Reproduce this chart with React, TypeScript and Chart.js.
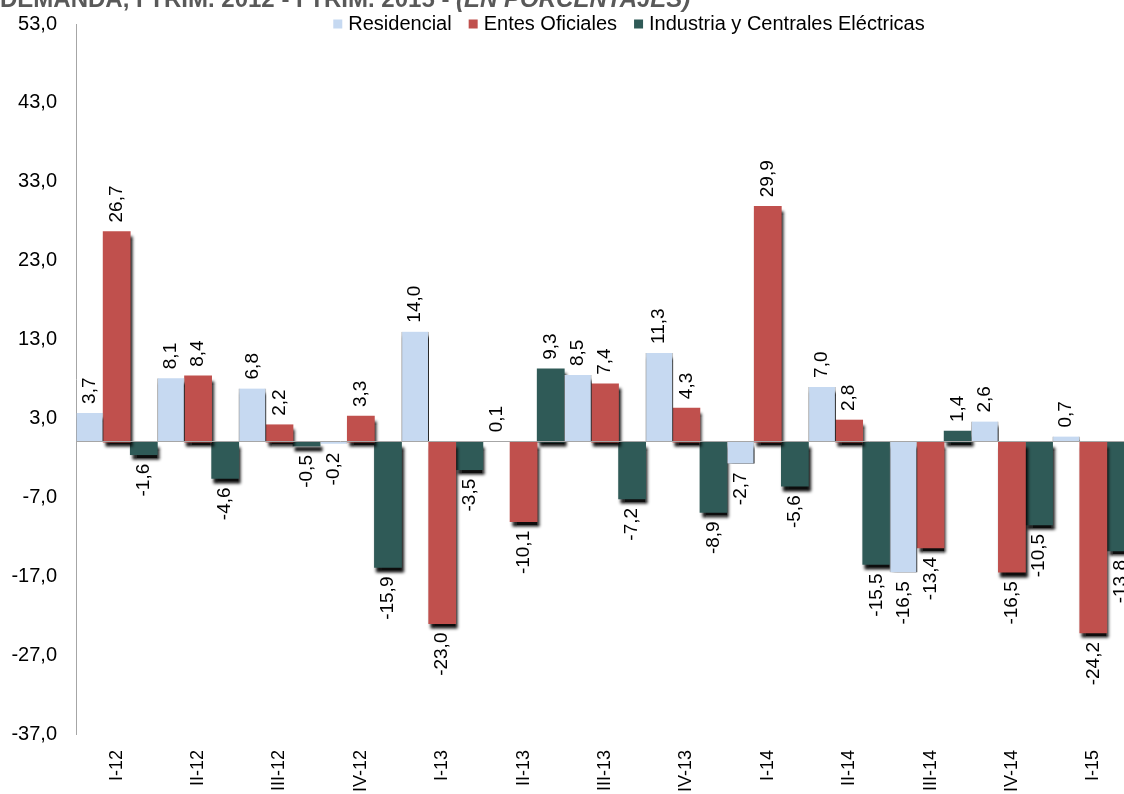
import React, { useEffect, useRef } from 'react';
import { Chart, registerables } from 'chart.js';

Chart.register(...registerables);

const categories = ['I-12', 'II-12', 'III-12', 'IV-12', 'I-13', 'II-13', 'III-13', 'IV-13', 'I-14', 'II-14', 'III-14', 'IV-14', 'I-15'];
const residencial = [3.7, 8.1, 6.8, -0.2, 14.0, 0.1, 8.5, 11.3, -2.7, 7.0, -16.5, 2.6, 0.7];
const entesOficiales = [26.7, 8.4, 2.2, 3.3, -23.0, -10.1, 7.4, 4.3, 29.9, 2.8, -13.4, -16.5, -24.2];
const industria = [-1.6, -4.6, -0.5, -15.9, -3.5, 9.3, -7.2, -8.9, -5.6, -15.5, 1.4, -10.5, -13.8];
const yTicks = [53, 43, 33, 23, 13, 3, -7, -17, -27, -37];
const seriesNames = ['Residencial', 'Entes Oficiales', 'Industria y Centrales Eléctricas'];
const seriesColors = ['#C6D9F1', '#C0504D', '#2F5A57'];

const FONT = '"Liberation Sans", Arial, sans-serif';
const fmt = (v: number) => v.toFixed(1).replace('.', ',');

const shadowPlugin = {
  id: 'barShadow',
  beforeDatasetDraw(chart: any) {
    const c = chart.ctx;
    c.save();
    c.shadowColor = 'rgba(0,0,0,0.95)';
    c.shadowBlur = 3;
    c.shadowOffsetX = 2;
    c.shadowOffsetY = 5;
  },
  afterDatasetDraw(chart: any) {
    chart.ctx.restore();
  },
};

const zeroLinePlugin = {
  id: 'zeroLine',
  afterDatasetsDraw(chart: any) {
    const { ctx, chartArea, scales } = chart;
    const y = Math.round(scales.y.getPixelForValue(0)) - 0.5;
    ctx.save();
    ctx.strokeStyle = '#A6A6A6';
    ctx.lineWidth = 1;
    ctx.beginPath();
    ctx.moveTo(chartArea.left, y);
    ctx.lineTo(chartArea.right, y);
    ctx.stroke();
    ctx.restore();
  },
};

const valueLabelPlugin = {
  id: 'valueLabels',
  afterDatasetsDraw(chart: any) {
    const ctx = chart.ctx;
    ctx.save();
    ctx.font = `19px ${FONT}`;
    ctx.fillStyle = '#000';
    ctx.textBaseline = 'middle';
    chart.data.datasets.forEach((ds: any, i: number) => {
      const meta = chart.getDatasetMeta(i);
      meta.data.forEach((bar: any, j: number) => {
        const v = ds.data[j] as number;
        ctx.save();
        ctx.translate(bar.x, bar.y);
        ctx.rotate(-Math.PI / 2);
        if (v >= 0) {
          ctx.textAlign = 'left';
          ctx.fillText(fmt(v), 9, 0);
        } else {
          ctx.textAlign = 'right';
          ctx.fillText(fmt(v), -9, 0);
        }
        ctx.restore();
      });
    });
    ctx.restore();
  },
};

const legendPlugin = {
  id: 'customLegend',
  afterDraw(chart: any) {
    const ctx = chart.ctx;
    ctx.save();
    ctx.font = `20px ${FONT}`;
    ctx.textBaseline = 'middle';
    ctx.textAlign = 'left';
    const box = 9;
    const gapText = 15;
    const gapItem = 17;
    const items = chart.data.datasets.map((ds: any) => ({
      text: ds.label as string,
      color: ds.backgroundColor as string,
      w: ctx.measureText(ds.label).width,
    }));
    let total = 0;
    items.forEach((it: any, i: number) => {
      total += gapText + it.w + (i < items.length - 1 ? gapItem : 0);
    });
    let x = 629 - total / 2;
    const y = 24;
    items.forEach((it: any) => {
      ctx.fillStyle = it.color;
      ctx.fillRect(x, y - 4.5, box, box);
      ctx.fillStyle = '#000';
      ctx.fillText(it.text, x + gapText, y);
      x += gapText + it.w + gapItem;
    });
    ctx.restore();
  },
};

export default function App() {
  const ref = useRef<HTMLCanvasElement>(null);

  useEffect(() => {
    if (!ref.current) return;
    const chart = new Chart(ref.current, {
      type: 'bar',
      data: {
        labels: categories,
        datasets: [
          {
            label: seriesNames[0],
            data: residencial,
            backgroundColor: seriesColors[0],
            borderColor: 'rgba(150,150,150,0.6)',
            borderWidth: { left: 1, right: 1, top: 0, bottom: 0 },
            borderSkipped: false,
            categoryPercentage: 1,
            barPercentage: 1,
          },
          {
            label: seriesNames[1],
            data: entesOficiales,
            backgroundColor: seriesColors[1],
            borderWidth: 0,
            categoryPercentage: 1,
            barPercentage: 1,
          },
          {
            label: seriesNames[2],
            data: industria,
            backgroundColor: seriesColors[2],
            borderWidth: 0,
            categoryPercentage: 1,
            barPercentage: 1,
          },
        ],
      },
      options: {
        responsive: false,
        animation: false,
        layout: { padding: { top: 24, left: 0, right: 0, bottom: 0 } },
        plugins: {
          legend: { display: false },
          title: { display: false },
          tooltip: { enabled: false },
        },
        scales: {
          x: {
            grid: { display: false, drawTicks: false },
            border: { display: false },
            ticks: {
              autoSkip: false,
              maxRotation: 90,
              minRotation: 90,
              padding: 16,
              color: '#000',
              font: { family: FONT, size: 18 },
            },
            afterFit: (scale: any) => {
              scale.height = 60;
              scale.paddingLeft = 0;
              scale.paddingRight = 0;
            },
          },
          y: {
            min: -37,
            max: 53,
            grid: { display: false, drawTicks: false },
            border: { display: true, color: '#A6A6A6', width: 1 },
            afterBuildTicks: (scale: any) => {
              scale.ticks = yTicks.map((value) => ({ value }));
            },
            ticks: {
              padding: 19,
              color: '#000',
              font: { family: FONT, size: 20 },
              callback: (v: any) => fmt(Number(v)),
            },
            afterFit: (scale: any) => {
              scale.width = 76;
              scale.paddingTop = 0;
              scale.paddingBottom = 0;
            },
          },
        },
      },
      plugins: [shadowPlugin, zeroLinePlugin, valueLabelPlugin, legendPlugin],
    } as any);
    return () => chart.destroy();
  }, []);

  return (
    <div
      style={{
        position: 'fixed',
        left: 0,
        top: 0,
        width: 1124,
        height: 794,
        overflow: 'hidden',
        background: '#fff',
      }}
    >
      <canvas
        ref={ref}
        width={1134}
        height={794}
        style={{ position: 'absolute', left: 0, top: 0, width: 1134, height: 794 }}
      />
      <div
        style={{
          position: 'absolute',
          left: 0,
          top: -15,
          whiteSpace: 'nowrap',
          fontFamily: FONT,
          fontWeight: 'bold',
          fontSize: 24,
          lineHeight: 'normal',
          color: '#595959',
        }}
      >
        DEMANDA, I TRIM. 2012 - I TRIM. 2015 - <i>(EN PORCENTAJES)</i>
      </div>
    </div>
  );
}
